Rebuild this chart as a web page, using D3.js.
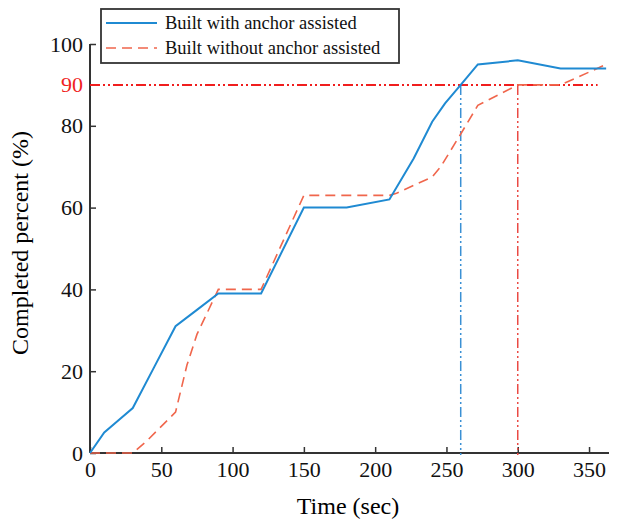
<!DOCTYPE html>
<html>
<head>
<meta charset="utf-8">
<script src="https://cdn.jsdelivr.net/npm/d3@7"></script>
<style>
  body { margin: 0; background: #fff; }
  svg text { font-family: "Liberation Serif", "Times New Roman", Times, serif !important; }
</style>
</head>
<body>
<svg id="chart"></svg>
<script>
// series: [time (sec), completed percent]
const withAnchor = [[0,0],[10,5],[20,8],[30,11],[45,21],[60,31],[75,35],[90,39],[120,39],[150,60],[180,60],[210,62],[227,72],[240,81],[249,85.5],[260,90],[272,95],[300,96],[330,94],[362,94]];
const withoutAnchor = [[0,0],[30,0],[40,3],[50,6.5],[60,10],[68,21.5],[75,29],[90,40],[120,40],[150,63],[210,63],[215,63.5],[240,67.5],[246,70],[260,78],[272,85],[300,90],[330,90],[362,95]];
const xTicks = [0, 50, 100, 150, 200, 250, 300, 350];
const yTicks = [0, 20, 40, 60, 80, 100];
const threshold = 90;
const crossTimes = [260, 300];
const seriesNames = ["Built with anchor assisted", "Built without anchor assisted"];

const width = 619, height = 523;
const svg = d3.select("#chart").attr("width", width).attr("height", height);

// plot area
const x = d3.scaleLinear().domain([0, 364]).range([90, 609]);
const y = d3.scaleLinear().domain([0, 100]).range([453, 44]);

const blue = "#1f8ad2";
const salmon = "#f0664c";
const red = "#f01e1e";

// axes first (ticks point inward, no box), lines go on top
const xAxis = d3.axisBottom(x).tickValues(xTicks).tickSize(-6).tickPadding(8);
const yAxis = d3.axisLeft(y).tickValues(yTicks).tickSize(-6).tickPadding(7);

const gx = svg.append("g").attr("transform", `translate(0,${y(0)})`).call(xAxis);
const gy = svg.append("g").attr("transform", `translate(${x(0)},0)`).call(yAxis);

[gx, gy].forEach(g => {
    g.attr("font-family", null);
    g.select(".domain").attr("stroke", "#333").attr("stroke-width", 2);
    g.selectAll(".tick line").attr("stroke", "#333").attr("stroke-width", 1.5);
    g.selectAll(".tick text").attr("fill", "#111").style("font-size", "22px");
});
gy.select(".domain").attr("d", `M0,${y(100)}V${y(0)}`);
gx.select(".domain").attr("d", `M${x(0)},0H609`);

// threshold line at 90 %
svg.append("line")
    .attr("x1", x(0)).attr("x2", x(356))
    .attr("y1", y(threshold)).attr("y2", y(threshold))
    .attr("stroke", red).attr("stroke-width", 2)
    .attr("stroke-dasharray", "10,3,2,3,2,3");

// vertical markers where each series reaches 90 %
svg.selectAll(".vmark")
    .data(crossTimes)
    .enter().append("line")
    .attr("class", "vmark")
    .attr("x1", d => x(d)).attr("x2", d => x(d))
    .attr("y1", y(threshold)).attr("y2", y(0) + 2)
    .attr("stroke", (d, i) => i == 0 ? "#3a90d4" : "#ea4a44")
    .attr("stroke-width", 1.5)
    .attr("stroke-dasharray", "10,3,2,3,2,3");

const line = d3.line().x(d => x(d[0])).y(d => y(d[1]));

svg.append("path")
    .datum(withoutAnchor)
    .attr("d", line)
    .attr("fill", "none")
    .attr("stroke", salmon)
    .attr("stroke-width", 1.6)
    .attr("stroke-dasharray", "10,6");

svg.append("path")
    .datum(withAnchor)
    .attr("d", line)
    .attr("fill", "none")
    .attr("stroke", blue)
    .attr("stroke-width", 2);

// red 90 label
svg.append("text")
    .attr("x", x(0) - 7).attr("y", y(threshold))
    .attr("dy", "0.32em")
    .attr("text-anchor", "end")
    .attr("fill", red)
    .style("font-size", "22px")
    .text(threshold);

// axis titles
svg.append("text")
    .attr("x", 348).attr("y", 514)
    .attr("text-anchor", "middle")
    .style("font-size", "24px")
    .text("Time (sec)");

svg.append("text")
    .attr("transform", "translate(28,243) rotate(-90)")
    .attr("text-anchor", "middle")
    .style("font-size", "24px")
    .text("Completed percent (%)");

// legend
const legend = svg.append("g");
legend.append("rect")
    .attr("x", 101).attr("y", 9).attr("width", 298).attr("height", 54)
    .attr("fill", "#fff").attr("stroke", "#333").attr("stroke-width", 1.8);

const items = legend.selectAll(".item")
    .data(seriesNames)
    .enter().append("g")
    .attr("transform", (d, i) => `translate(0,${23 + i * 25})`);

items.append("line")
    .attr("x1", 106).attr("x2", 157)
    .attr("stroke", (d, i) => i == 0 ? blue : salmon)
    .attr("stroke-width", (d, i) => i == 0 ? 2 : 1.6)
    .attr("stroke-dasharray", (d, i) => i == 0 ? null : "10,6");

items.append("text")
    .attr("x", 165).attr("dy", "0.35em")
    .style("font-size", "18.5px")
    .attr("fill", "#111")
    .text(d => d);
</script>
</body>
</html>
